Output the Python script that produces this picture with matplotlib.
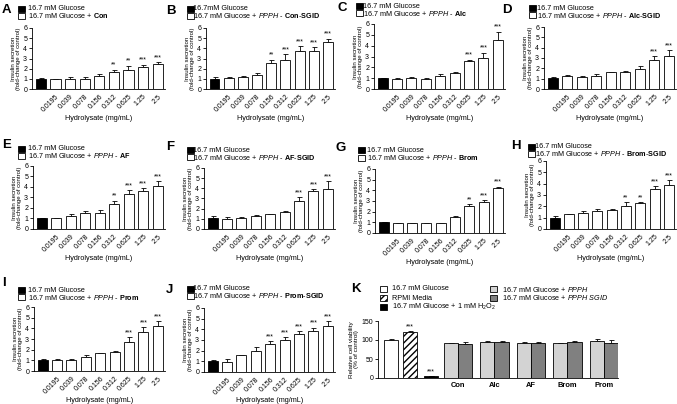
import matplotlib
matplotlib.use("Agg")
import matplotlib.pyplot as plt
from matplotlib.patches import Rectangle

plt.rcParams['font.family'] = ['Liberation Sans', 'DejaVu Sans']
plt.rcParams['mathtext.fontset'] = 'custom'
plt.rcParams['mathtext.rm'] = 'Liberation Sans'
plt.rcParams['mathtext.it'] = 'Liberation Sans:italic'
plt.rcParams['mathtext.bf'] = 'Liberation Sans:bold'
plt.rcParams['hatch.linewidth'] = 1.0

W, H = 677, 404

conc_labels = ["", "0.0195", "0.039", "0.078", "0.156", "0.312", "0.625", "1.25", "2.5"]

A_mean = [1.0, 0.95, 0.95, 0.95, 1.25, 1.7, 1.9, 2.2, 2.5]
A_err = [0.05, 0.05, 0.2, 0.25, 0.2, 0.2, 0.4, 0.2, 0.15]
A_sig = ["", "", "", "", "", "**", "**", "***", "***"]

B_mean = [1.0, 1.05, 1.2, 1.4, 2.6, 2.9, 3.7, 3.7, 4.6]
B_err = [0.15, 0.1, 0.05, 0.2, 0.3, 0.5, 0.5, 0.45, 0.35]
B_sig = ["", "", "", "", "**", "***", "***", "***", "***"]

C_mean = [1.0, 0.9, 1.0, 0.95, 1.2, 1.45, 2.55, 2.85, 4.5]
C_err = [0.05, 0.08, 0.15, 0.05, 0.15, 0.15, 0.15, 0.5, 0.8]
C_sig = ["", "", "", "", "", "", "***", "***", "***"]

D_mean = [1.05, 1.25, 1.15, 1.25, 1.6, 1.6, 1.9, 2.85, 3.2]
D_err = [0.15, 0.15, 0.1, 0.25, 0.05, 0.15, 0.3, 0.35, 0.6]
D_sig = ["", "", "", "", "", "", "", "***", "***"]

E_mean = [1.0, 1.0, 1.25, 1.5, 1.55, 2.35, 3.3, 3.6, 4.1]
E_err = [0.03, 0.08, 0.15, 0.2, 0.25, 0.35, 0.4, 0.3, 0.45]
E_sig = ["", "", "", "", "", "**", "***", "***", "***"]

F_mean = [1.1, 1.0, 1.1, 1.25, 1.45, 1.65, 2.8, 3.75, 3.95]
F_err = [0.15, 0.15, 0.05, 0.08, 0.05, 0.15, 0.35, 0.15, 0.75]
F_sig = ["", "", "", "", "", "", "***", "***", "***"]

G_mean = [1.0, 0.9, 0.9, 0.9, 0.9, 1.5, 2.5, 2.9, 4.2]
G_err = [0.05, 0.05, 0.05, 0.05, 0.05, 0.08, 0.2, 0.2, 0.15]
G_sig = ["", "", "", "", "", "", "**", "***", "***"]

H_mean = [1.0, 1.3, 1.4, 1.6, 1.65, 2.05, 2.25, 3.5, 3.85]
H_err = [0.15, 0.05, 0.2, 0.15, 0.08, 0.3, 0.1, 0.3, 0.45]
H_sig = ["", "", "", "", "", "**", "**", "***", "***"]

I_mean = [1.0, 1.05, 1.0, 1.35, 1.65, 1.75, 2.75, 3.65, 4.2]
I_err = [0.15, 0.08, 0.15, 0.15, 0.05, 0.1, 0.4, 0.45, 0.5]
I_sig = ["", "", "", "", "", "", "***", "***", "***"]

J_mean = [1.0, 0.95, 1.55, 1.95, 2.6, 3.0, 3.55, 3.85, 4.35]
J_err = [0.15, 0.25, 0.05, 0.35, 0.3, 0.3, 0.3, 0.3, 0.4]
J_sig = ["", "", "", "", "***", "***", "***", "***", "***"]

# Panel K
K_ctrl_labels = ["16.7 mM Glucose", "RPMI Media", "16.7 mM Glucose + 1 mM H$_2$O$_2$"]
K_ctrl_mean = [100, 120, 4]
K_ctrl_err = [3, 4, 1]
K_ctrl_sig = ["", "***", "***"]
K_groups = ["Con", "Alc", "AF", "Brom", "Prom"]
K_pp_mean = [92, 95, 93, 92, 98]
K_pp_err = [1, 2, 1, 1, 4]
K_sgid_mean = [90, 95, 93, 96, 93]
K_sgid_err = [5, 3, 1, 2, 6]

fig = plt.figure(figsize=(W / 100, H / 100), dpi=100)


def add_ax(l, t, r, b):
    return fig.add_axes([l / W, 1 - b / H, (r - l) / W, (b - t) / H])


def ftext(x, y, s, **kw):
    return fig.text(x / W, 1 - y / H, s, **kw)


def fpatch(x, y, w, h, **kw):
    fig.patches.append(Rectangle((x / W, 1 - (y + h / 2) / H), w / W, h / H,
                                 transform=fig.transFigure, figure=fig, **kw))


def style_ax(ax):
    for s in ["top", "right"]:
        ax.spines[s].set_visible(False)
    for s in ["left", "bottom"]:
        ax.spines[s].set_linewidth(0.6)
    ax.tick_params(width=0.6, length=2, labelsize=5, pad=1.5)


panels = [
    # letter, means, errs, sig, axes box, letter pos, legend pos, line1, line2
    ("A", A_mean, A_err, A_sig, (32, 28, 165, 89), (2, 10), (18, 9, 16, 28),
     "16.7 mM Glucose", r"16.7 mM Glucose + $\bf{Con}$"),
    ("B", B_mean, B_err, B_sig, (206, 28, 335, 89), (166, 11), (187, 9, 16, 193),
     "16.7mM Glucose", r"16.7 mM Glucose + $\it{PPPH}$ - $\bf{Con}$-$\bf{SGID}$"),
    ("C", C_mean, C_err, C_sig, (374, 24, 505, 89), (337, 8), (356, 6, 13, 363),
     "16.7 mM Glucose", r"16.7 mM Glucose + $\it{PPPH}$ - $\bf{Alc}$"),
    ("D", D_mean, D_err, D_sig, (544, 27, 676, 89), (502, 10), (529, 8, 15, 537),
     "16.7 mM Glucose", r"16.7 mM Glucose + $\it{PPPH}$ - $\bf{Alc}$-$\bf{SGID}$"),
    ("E", E_mean, E_err, E_sig, (33, 166, 165, 229), (2, 145), (18, 149, 156, 28),
     "16.7 mM Glucose", r"16.7 mM Glucose + $\it{PPPH}$ - $\bf{AF}$"),
    ("F", F_mean, F_err, F_sig, (204, 168, 335, 229), (166, 147), (187, 150, 157, 193),
     "16.7 mM Glucose", r"16.7 mM Glucose + $\it{PPPH}$ - $\bf{AF}$-$\bf{SGID}$"),
    ("G", G_mean, G_err, G_sig, (375, 169, 505, 233), (335, 148), (358, 150, 158, 367),
     "16.7 mM Glucose", r"16.7 mM Glucose + $\it{PPPH}$ - $\bf{Brom}$"),
    ("H", H_mean, H_err, H_sig, (546, 161, 676, 229), (511, 146), (528, 147, 154, 535),
     "16.7 mM Glucose", r"16.7 mM Glucose + $\it{PPPH}$ - $\bf{Brom}$-$\bf{SGID}$"),
    ("I", I_mean, I_err, I_sig, (34, 307, 165, 371), (2, 283), (18, 290, 297, 28),
     "16.7 mM Glucose", r"16.7 mM Glucose + $\it{PPPH}$ - $\bf{Prom}$"),
    ("J", J_mean, J_err, J_sig, (204, 308, 335, 372), (166, 290), (187, 289, 296, 193),
     "16.7 mM Glucose", r"16.7 mM Glucose + $\it{PPPH}$ - $\bf{Prom}$-$\bf{SGID}$"),
]

LEG_FS = 5.2
for letter, mean, err, sig, box, lpos, leg, line1, line2 in panels:
    l, t, r, b = box
    ax = add_ax(l, t, r, b)
    style_ax(ax)
    x = list(range(len(mean)))
    colors = ["black"] + ["white"] * (len(mean) - 1)
    ax.bar(x, mean, width=0.7, color=colors, edgecolor="black", linewidth=0.6, zorder=2)
    ax.errorbar(x, mean, yerr=[[0] * len(err), err], fmt="none", ecolor="black",
                elinewidth=0.6, capsize=1.8, capthick=0.6, zorder=1)
    for xi, m, e, s in zip(x, mean, err, sig):
        if s:
            ax.text(xi, m + e + 0.08, s, ha="center", va="bottom", fontsize=5)
    ax.set_ylim(0, 6)
    ax.set_yticks(range(0, 7))
    ax.set_xlim(-0.6, 8.5)
    ax.set_xticks(x)
    ax.set_xticklabels(conc_labels, rotation=45, ha="right", rotation_mode="anchor")
    ax.tick_params(axis="x", length=0, pad=3)
    ftext((l + r) / 2, b + 29, "Hydrolysate (mg/mL)", ha="center", va="center", fontsize=5.2)
    ftext(l - 16, (t + b) / 2, "Insulin secretion\n(fold-change of control)", rotation=90,
          ha="center", va="center", fontsize=4.4, linespacing=1.15)
    ftext(lpos[0], lpos[1], letter, fontsize=9.5, fontweight="bold", ha="left", va="center")
    px, y1, y2, tx = leg
    fpatch(px, y1, 7, 5.5, facecolor="black", edgecolor="black", linewidth=0.6)
    fpatch(px, y2, 7, 5.5, facecolor="white", edgecolor="black", linewidth=0.6)
    ftext(tx, y1, line1, fontsize=LEG_FS, ha="left", va="center")
    ftext(tx, y2, line2, fontsize=LEG_FS, ha="left", va="center")

# Panel K
axk = add_ax(378, 321, 618, 378)
style_ax(axk)
ctrl_x = [0, 1.4, 2.9]
ctrl_fc = ["white", "white", "black"]
ctrl_hatch = ["", "/////", ""]
for cx, m, e, fc, h, s in zip(ctrl_x, K_ctrl_mean, K_ctrl_err, ctrl_fc, ctrl_hatch, K_ctrl_sig):
    axk.bar(cx, m, width=1.0, color=fc, edgecolor="black", linewidth=0.6, hatch=h, zorder=2)
    axk.errorbar(cx, m, yerr=[[0], [e]], fmt="none", ecolor="black", elinewidth=0.6,
                 capsize=1.8, capthick=0.6, zorder=1)
    if s:
        axk.text(cx, m + e + 2, s, ha="center", va="bottom", fontsize=5)
gx = [4.3 + 2.6 * i for i in range(len(K_groups))]
pp_x = gx
sg_x = [g + 1.0 for g in gx]
axk.bar(pp_x, K_pp_mean, width=1.0, color="#d3d3d3", edgecolor="black", linewidth=0.6, zorder=2)
axk.bar(sg_x, K_sgid_mean, width=1.0, color="#808080", edgecolor="black", linewidth=0.6, zorder=2)
axk.errorbar(pp_x, K_pp_mean, yerr=[[0] * 5, K_pp_err], fmt="none", ecolor="black",
             elinewidth=0.6, capsize=1.8, capthick=0.6, zorder=1)
axk.errorbar(sg_x, K_sgid_mean, yerr=[[0] * 5, K_sgid_err], fmt="none", ecolor="black",
             elinewidth=0.6, capsize=1.8, capthick=0.6, zorder=1)
axk.set_ylim(0, 150)
axk.set_yticks([0, 50, 100, 150])
axk.set_xlim(-0.9, 16.2)
axk.set_xticks([g + 0.5 for g in gx])
axk.set_xticklabels(K_groups, fontweight="bold", fontsize=5.4)
axk.tick_params(axis="x", length=0, pad=3)
ftext(378 - 24, (321 + 378) / 2, "Relative cell viability\n(% of control)", rotation=90,
      ha="center", va="center", fontsize=4.6, linespacing=1.15)
ftext(351, 289, "K", fontsize=9.5, fontweight="bold", ha="left", va="center")
# K legend
kl_rows = [289, 298, 307]
ctrl_leg_fc = ["white", "white", "black"]
for yy, lab, fc, h in zip(kl_rows, K_ctrl_labels, ctrl_leg_fc, ctrl_hatch):
    fpatch(380, yy, 7, 5.5, facecolor=fc, edgecolor="black", linewidth=0.6, hatch=h)
    ftext(392, yy, lab, fontsize=LEG_FS, ha="left", va="center")
fpatch(490, kl_rows[0], 7, 5.5, facecolor="#d3d3d3", edgecolor="black", linewidth=0.6)
ftext(502, kl_rows[0], r"16.7 mM Glucose + $\it{PPPH}$", fontsize=LEG_FS, ha="left", va="center")
fpatch(490, kl_rows[1], 7, 5.5, facecolor="#808080", edgecolor="black", linewidth=0.6)
ftext(502, kl_rows[1], r"16.7 mM Glucose + $\it{PPPH\ SGID}$", fontsize=LEG_FS, ha="left", va="center")

fig.savefig("out.png", dpi=100)
